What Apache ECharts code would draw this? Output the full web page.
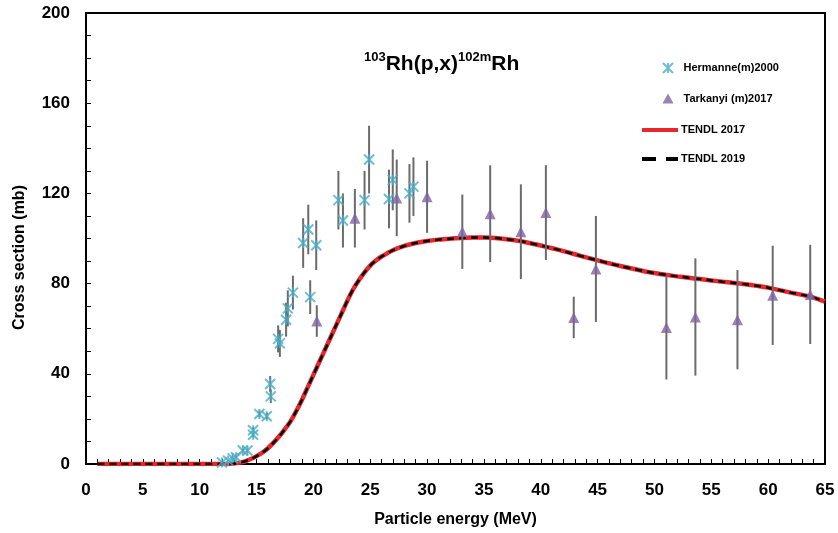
<!DOCTYPE html>
<html><head><meta charset="utf-8">
<script src="https://cdn.jsdelivr.net/npm/echarts@6/dist/echarts.min.js"></script>
<style>html,body{margin:0;padding:0;background:#fff}#c{width:838px;height:533px}</style>
</head><body><div id="c"></div>
<script>
// Hermanne(m)2000 : energy, cross section, uncertainty
const hermE   = [11.96,12.5,12.9,13.2,13.8,14.2,14.7,14.7,15.25,15.9,16.2,16.25,16.9,17.05,17.6,17.75,18.2,19.1,19.55,19.72,20.25,22.2,22.6,24.5,24.9,26.65,26.98,28.45,28.8];
const hermY   = [0.7,1.5,2.5,3.0,6.0,6.0,13.0,15.0,22.2,21.2,35.5,30.0,55.5,53.5,64.0,69.0,76.0,98.0,104.0,74.0,97.0,117.0,108.0,117.0,135.0,117.5,126.0,120.0,123.0];
const hermErr = [0.3,0.3,0.4,0.5,0.8,0.8,1.2,1.2,1.5,1.5,3.5,3.0,6.0,6.0,7.5,8.0,7.5,11,11,7.5,11,13,12,13,15,13,13.5,13,13];
// Tarkanyi (m)2017
const tarkE   = [20.3,23.65,27.33,30.0,33.1,35.55,38.25,40.45,42.9,44.85,51.05,53.6,57.3,60.4,63.7];
const tarkY   = [63.4,109,118,118.5,103,111,103,111.5,65,86.5,60.5,65.2,64,74.8,75.2];
const tarkErr = [7,13,17,16,16.5,21.5,21,21,9.2,23.5,23,26,22,22,22];
// TENDL curves
const tendlE = [1,2,3,4,5,6,7,8,9,10,11,12,12.5,13,13.5,14,14.5,15,15.5,16,16.5,17,17.5,18,18.5,19,19.5,20,20.5,21,21.5,22,22.5,23,23.5,24,24.5,25,25.5,26,27,28,29,30,31,32,33,34,35,36,37,38,39,40,41,42,43,44,45,46,47,48,49,50,51,52,53,54,55,56,57,58,59,60,61,62,63,64,65];
const tendl2017 = [0,0,0,0,0,0,0,0,0,0,0,0,0,0.2,0.6,1.2,2.2,3.5,5,7,9.5,12.3,15.5,19,23.5,28.5,34,39.5,45,50.5,56,61.5,67,72.5,77.5,81.5,85,88,90.2,92,94.8,96.7,98,98.9,99.5,99.9,100.2,100.4,100.4,100.2,99.7,99,98,96.9,95.7,94.4,93,91.6,90.3,89,87.8,86.7,85.6,84.7,83.9,83.2,82.6,82,81.4,80.8,80.3,79.7,79,78.2,77.1,76,75,73.8,72];
const tendl2019 = [0,0,0,0,0,0,0,0,0,0,0,0,0,0.2,0.6,1.2,2.2,3.5,5,7,9.5,12.3,15.5,19,23.5,28.5,34,39.5,45,50.5,56,61.5,67,72.5,77.5,81.5,85,88,90.2,92,94.8,96.7,98,98.9,99.5,99.9,100.2,100.4,100.4,100.2,99.7,99,98,96.9,95.7,94.4,93,91.6,90.3,89,87.8,86.7,85.6,84.7,83.9,83.2,82.6,82,81.4,80.8,80.3,79.7,79,78.2,77.1,76,75,73.8,72];
const xTicks = [0,5,10,15,20,25,30,35,40,45,50,55,60,65];
const yTicks = [0,40,80,120,160,200];

const CYAN = '#4bacc6', PURPLE = '#8064a2', RED = '#e8262b';
const FONT = 'Liberation Sans, Arial, sans-serif';
const pts = (xs, ys) => xs.map((x, i) => [x, ys[i]]);
const bars = (xs, ys, es) => xs.map((x, i) => [x, ys[i] - es[i], ys[i] + es[i]]);
const errRender = (params, api) => {
  const a = api.coord([api.value(0), api.value(1)]);
  const b = api.coord([api.value(0), api.value(2)]);
  return {type: 'line', shape: {x1: a[0], y1: a[1], x2: b[0], y2: b[1]}, style: {stroke: '#6b6b6b', lineWidth: 2}};
};
const starPath = 'path://M0,0L10,10M10,0L0,10M5,0L5,10';
const legendText = {fontSize: 11, fontWeight: 'bold', fontFamily: FONT, color: '#000'};

const chart = echarts.init(document.getElementById('c'), null, {renderer: 'canvas'});
chart.setOption({
  animation: false,
  backgroundColor: '#fff',
  textStyle: {fontFamily: FONT},
  title: {
    text: '{s|103}{b|Rh(p,x)}{s|102m}{b|Rh}',
    left: 359, top: 46,
    textStyle: {rich: {
      s: {fontSize: 13, fontWeight: 'bold', fontFamily: FONT, color: '#000', verticalAlign: 'top', lineHeight: 26},
      b: {fontSize: 21, fontWeight: 'bold', fontFamily: FONT, color: '#000', lineHeight: 26}
    }}
  },
  legend: [{
    data: [{name: 'Hermanne(m)2000'}, {name: 'Tarkanyi (m)2017'}],
    orient: 'vertical', left: 657, top: 57, itemWidth: 11, itemHeight: 10, itemGap: 19,
    textStyle: Object.assign({padding: [0, 0, 0, 5]}, legendText)
  }, {
    data: [
      {name: 'TENDL 2017', icon: 'path://M0,0H36V4H0Z'},
      {name: 'TENDL 2019', icon: 'path://M0,0H14V4H0Z M24,0H36V4H24Z'}
    ],
    orient: 'vertical', left: 637, top: 118, itemWidth: 36, itemHeight: 4, itemGap: 15,
    textStyle: Object.assign({padding: [0, 0, 0, -2], lineHeight: 14}, legendText)
  }],
  grid: {left: 86, right: 13, top: 13, bottom: 68, show: true, borderColor: '#000', borderWidth: 2, containLabel: false},
  xAxis: {
    type: 'value', min: xTicks[0], max: xTicks[xTicks.length - 1], interval: 5,
    name: 'Particle energy (MeV)', nameLocation: 'middle', nameGap: 48,
    nameTextStyle: {fontSize: 16, fontWeight: 'bold', fontFamily: FONT, color: '#000'},
    axisLine: {lineStyle: {color: '#000', width: 2}},
    axisTick: {inside: true, length: 5, lineStyle: {color: '#000'}},
    minorTick: {show: true, splitNumber: 5, length: 5, lineStyle: {color: '#000'}},
    splitLine: {show: false},
    axisLabel: {fontSize: 17, fontWeight: 'bold', fontFamily: FONT, color: '#000', margin: 18}
  },
  yAxis: {
    type: 'value', min: yTicks[0], max: yTicks[yTicks.length - 1], interval: 40,
    name: 'Cross section (mb)', nameLocation: 'middle', nameGap: 58, nameRotate: 90,
    nameTextStyle: {fontSize: 16, fontWeight: 'bold', fontFamily: FONT, color: '#000', padding: [0, 0, 0, -38]},
    axisLine: {show: true, lineStyle: {color: '#000', width: 2}},
    axisTick: {show: true, inside: true, length: 5, lineStyle: {color: '#000'}},
    minorTick: {show: true, splitNumber: 4, length: 5, lineStyle: {color: '#000'}},
    splitLine: {show: false},
    axisLabel: {fontSize: 17, fontWeight: 'bold', fontFamily: FONT, color: '#000', margin: 16}
  },
  series: [
    {name: 'TENDL 2017', type: 'line', data: pts(tendlE, tendl2017), showSymbol: false, symbol: 'none', smooth: 0.3,
     lineStyle: {color: RED, width: 4.5}, itemStyle: {color: RED}, z: 2},
    {name: 'TENDL 2019', type: 'line', data: pts(tendlE, tendl2019), showSymbol: false, symbol: 'none', smooth: 0.3,
     lineStyle: {color: '#000', width: 2.5, type: [7, 5]}, itemStyle: {color: '#000'}, z: 3},
    {name: 'herErr', type: 'custom', renderItem: errRender, data: bars(hermE, hermY, hermErr), encode: {x: 0, y: [1, 2]}, z: 4, silent: true},
    {name: 'tarErr', type: 'custom', renderItem: errRender, data: bars(tarkE, tarkY, tarkErr), encode: {x: 0, y: [1, 2]}, z: 4, silent: true},
    {name: 'Hermanne(m)2000', type: 'scatter', data: pts(hermE, hermY), symbol: starPath, symbolSize: 10,
     itemStyle: {color: 'rgba(0,0,0,0)', borderColor: CYAN, borderWidth: 2}, z: 5},
    {name: 'Tarkanyi (m)2017', type: 'scatter', data: pts(tarkE, tarkY), symbol: 'triangle', symbolSize: 11,
     itemStyle: {color: PURPLE}, z: 5}
  ]
});
</script></body></html>
